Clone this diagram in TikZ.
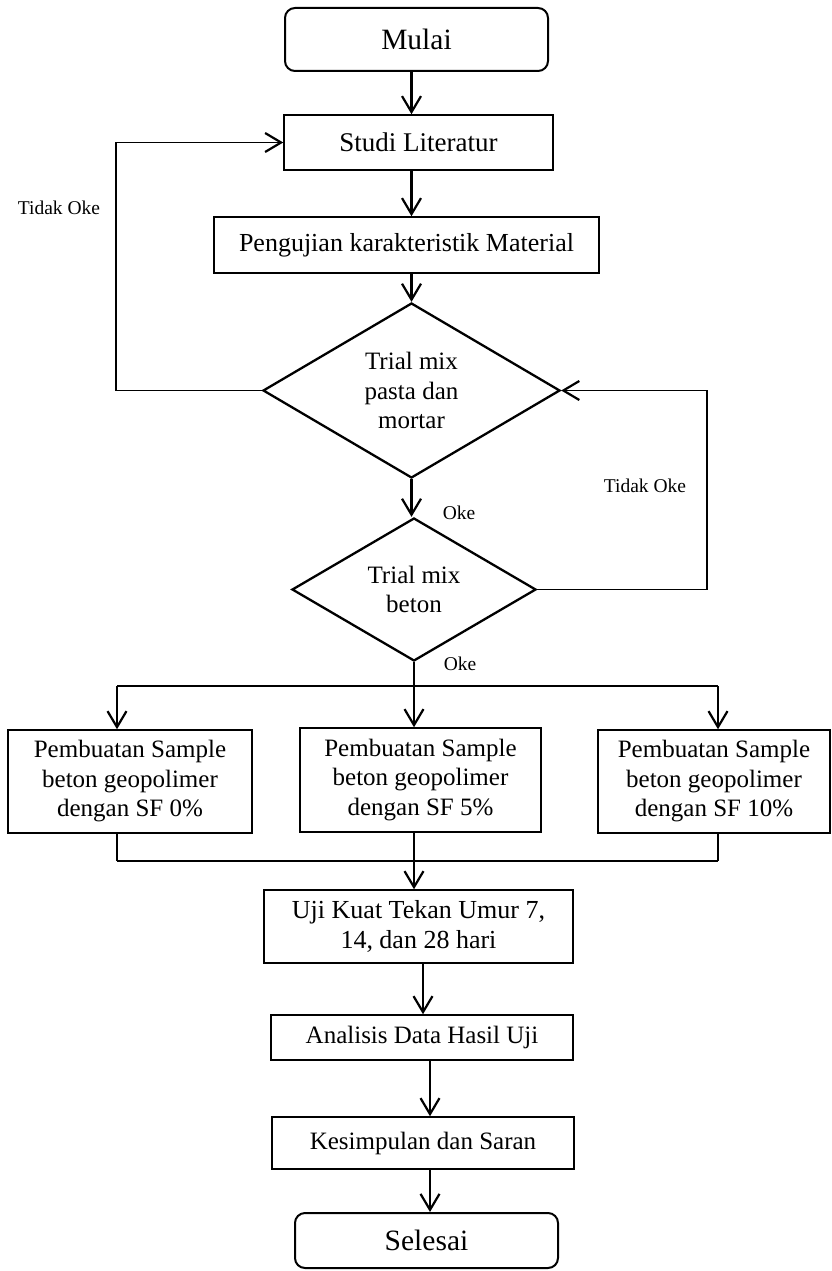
\documentclass[tikz,border=0pt]{standalone}
\usepackage{fontspec}
\setmainfont{Liberation Serif}
\usetikzlibrary{shapes.geometric,arrows.meta}
\begin{document}
\begin{tikzpicture}[x=1pt,y=-1pt,
  box/.style={draw,line width=1.5pt,rectangle,inner sep=0pt,align=center,font=\fontsize{25}{29.5}\selectfont},
  term/.style={box,rounded corners=10pt,line width=2pt,font=\fontsize{29.5}{34}\selectfont},
  dec/.style={draw,diamond,line width=2.3pt,inner sep=0pt,align=center,font=\fontsize{25}{29.5}\selectfont},
  arr/.style={line width=2.2pt,-{Straight Barb[length=16pt,width=19pt]}},
  arrthin/.style={line width=1.6pt,-{Straight Barb[length=16pt,width=19pt,line width=2.2pt]}},
  ln/.style={line width=1.6pt},
  lnthick/.style={line width=2.2pt},
  lbl/.style={font=\fontsize{19.5}{22}\selectfont,inner sep=0pt}]
\useasboundingbox (0,0) rectangle (831,1271);

% nodes
\node[term,minimum width=263pt,minimum height=63pt] (mulai) at (416.5,39.5) {Mulai};
\node[box,minimum width=269pt,minimum height=55pt,font=\fontsize{27}{31}\selectfont] (studi) at (418.5,142.5) {Studi Literatur};
\node[box,minimum width=385pt,minimum height=56pt,font=\fontsize{26}{30}\selectfont] (uji) at (406.5,245) {Pengujian karakteristik Material};
\node[dec,shape aspect=1.7,minimum width=297pt,minimum height=175pt] (d1) at (411.5,390.5) {Trial mix\\pasta dan\\mortar};
\node[dec,shape aspect=1.7,minimum width=244pt,minimum height=143pt] (d2) at (414,589.5) {Trial mix\\beton};
\node[box,minimum width=244pt,minimum height=103pt] (p0) at (130,781.5) {Pembuatan Sample\\beton geopolimer\\dengan SF 0\%};
\node[box,minimum width=241pt,minimum height=104pt] (p5) at (420.5,780) {Pembuatan Sample\\beton geopolimer\\dengan SF 5\%};
\node[box,minimum width=232pt,minimum height=103pt] (p10) at (714,781.5) {Pembuatan Sample\\beton geopolimer\\dengan SF 10\%};
\node[box,minimum width=309pt,minimum height=73pt,font=\fontsize{26}{30}\selectfont] (uk) at (418.5,926.5) {Uji Kuat Tekan Umur 7,\\14, dan 28 hari};
\node[box,minimum width=302pt,minimum height=45pt] (an) at (422,1037.5) {Analisis Data Hasil Uji};
\node[box,minimum width=302pt,minimum height=52pt] (kes) at (423,1143) {Kesimpulan dan Saran};
\node[term,minimum width=263pt,minimum height=55pt] (sel) at (426.5,1240.5) {Selesai};

% labels
\node[lbl] (tl) at (59,208) {Tidak Oke};
\node[lbl] (tr) at (645,486) {Tidak Oke};
\node[lbl] (ok1) at (459,513) {Oke};
\node[lbl] (ok2) at (460,664) {Oke};

% helper coordinates
\coordinate (fbL) at (116,142.5);
\coordinate (fbR) at (707,390.5);
\coordinate (brL) at (117,686);
\coordinate (brM) at (414,686);
\coordinate (brR) at (718,686);
\coordinate (mgL) at (117,861);
\coordinate (mgM) at (414,861);
\coordinate (mgR) at (718,861);

% main flow
\draw[arr] (mulai.south -| d1) -- (studi.north -| d1);
\draw[arr] (studi.south -| d1) -- (uji.north -| d1);
\draw[arr] (uji.south -| d1) -- (d1.north);
\draw[arr] (d1.south) -- (d1.south |- d2.north);

% feedback loops
\draw[arrthin] (d1.west) -| (fbL) -- (studi.west);
\draw[arrthin] (d2.east) -| (fbR) -- (d1.east);

% branching
\draw[lnthick] (d2.south) -- (brM);
\draw[ln] (brL) -- (brR);
\draw[arr] (brL) -- (brL |- p0.north);
\draw[arr] (brM) -- (brM |- p5.north);
\draw[arr] (brR) -- (brR |- p10.north);

% merging
\draw[ln] (p0.south -| mgL) -- (mgL);
\draw[lnthick] (p5.south -| mgM) -- (mgM);
\draw[ln] (p10.south -| mgR) -- (mgR);
\draw[ln] (mgL) -- (mgR);
\draw[arr] (mgM) -- (mgM |- uk.north);

% lower flow
\draw[arr] ([xshift=4.5pt]uk.south) -- ([xshift=4.5pt]uk.south |- an.north);
\draw[arr] ([xshift=8pt]an.south) -- ([xshift=8pt]an.south |- kes.north);
\draw[arr] ([xshift=7pt]kes.south) -- ([xshift=7pt]kes.south |- sel.north);
\end{tikzpicture}
\end{document}
